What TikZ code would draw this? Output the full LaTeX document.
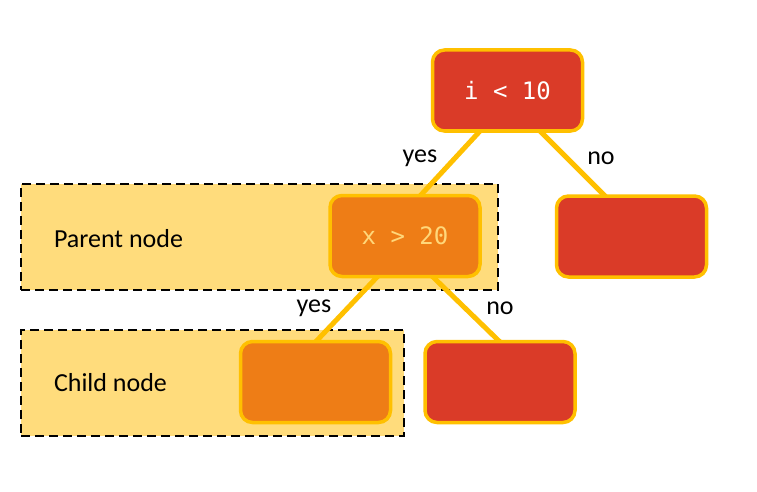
\documentclass[tikz,border=0pt]{standalone}
\usepackage{fontspec}
\setmainfont{Carlito}
\newfontfamily\monofont{DejaVu Sans Mono}
\usetikzlibrary{calc}
\definecolor{edgeyel}{HTML}{FFC000}
\definecolor{nodered}{HTML}{DA3B28}
\definecolor{nodeorange}{HTML}{EE7D16}
\definecolor{boxfill}{HTML}{FFDC7C}
\definecolor{paletext}{HTML}{FFD77A}
\tikzset{
  treenode/.style={draw=edgeyel, line width=3.5pt, rounded corners=12pt, minimum width=150pt, minimum height=81pt, inner sep=0pt},
  rednode/.style={treenode, fill=nodered},
  orangenode/.style={treenode, fill=nodeorange},
  groupbox/.style={draw=black, fill=boxfill, line width=2.5pt, dash pattern=on 9pt off 5pt, minimum height=106pt, inner sep=0pt},
  edge/.style={draw=edgeyel, line width=5pt},
  lbl/.style={font=\fontsize{26}{30}\selectfont, text=black},
  codetxt/.style={font=\monofont\fontsize{24}{28}\selectfont}
}
\begin{document}
\begin{tikzpicture}[x=1pt,y=-1pt]
\useasboundingbox (0,0) rectangle (757,492);
% group boxes
\node[groupbox, minimum width=477pt] (pbox) at (259.5,237) {};
\node[groupbox, minimum width=383pt] (cbox) at (212.5,383) {};
\node[lbl] (plabel) at (118.5,239) {Parent node};
\node[lbl] (clabel) at (110.5,383) {Child node};
% coordinates for node centers
\coordinate (rootc) at (507.5,90.5);
\coordinate (rrc) at (631.5,236.5);
\coordinate (pxc) at (405,236);
\coordinate (clc) at (315.5,382);
\coordinate (crc) at (500,382);
% edges drawn first (below nodes)
\path[edge] ($(rootc)+(-27,40)$) -- ($(pxc)+(15,-40)$);
\path[edge] ($(rootc)+(32,40)$) -- ($(rrc)+(-26,-40)$);
\path[edge] ($(pxc)+(-27,40)$) -- ($(clc)+(0,-40)$);
\path[edge] ($(pxc)+(27,40)$) -- ($(crc)+(0,-40)$);
% nodes
\node[rednode, codetxt, text=white] (root) at (rootc) {i < 10};
\node[rednode] (rr) at (rrc) {};
\node[orangenode, codetxt, text=paletext] (px) at (pxc) {x > 20};
\node[orangenode] (cl) at (clc) {};
\node[rednode] (cr) at (crc) {};
% edge labels
\node[lbl] (y1) at (420,158) {yes};
\node[lbl] (n1) at (601,158) {no};
\node[lbl] (y2) at (314,308) {yes};
\node[lbl] (n2) at (500,308) {no};
\end{tikzpicture}
\end{document}
